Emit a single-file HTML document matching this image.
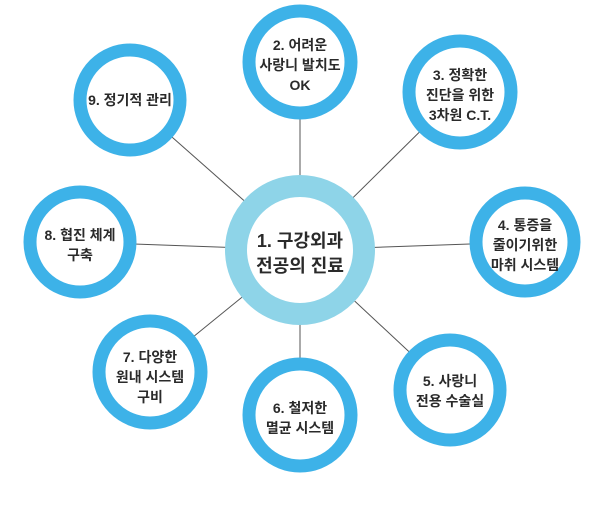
<!DOCTYPE html>
<html><head><meta charset="utf-8"><style>
body{margin:0;background:#fff;}
svg text{font-family:"Liberation Sans","Noto Sans CJK KR",sans-serif;fill:#2a2a2a;font-size:14px;text-anchor:middle;font-weight:bold}
svg text.c{font-size:18px}
</style></head><body>
<svg width="600" height="500" viewBox="0 0 600 500">
<g stroke="#555" stroke-width="1">
<line x1="300" y1="250" x2="300" y2="62"/>
<line x1="300" y1="250" x2="460" y2="92"/>
<line x1="300" y1="250" x2="130" y2="100"/>
<line x1="300" y1="250" x2="80" y2="242"/>
<line x1="300" y1="250" x2="525" y2="242"/>
<line x1="300" y1="250" x2="150" y2="372"/>
<line x1="300" y1="250" x2="300" y2="415"/>
<line x1="300" y1="250" x2="450" y2="390"/>
</g>
<g fill="#fff" stroke="#3db2e8" stroke-width="13">
<circle cx="300" cy="62" r="51"/>
<circle cx="460" cy="92" r="51"/>
<circle cx="130" cy="100" r="50"/>
<circle cx="80" cy="242" r="50"/>
<circle cx="525" cy="242" r="49"/>
<circle cx="150" cy="372" r="51"/>
<circle cx="300" cy="415" r="51"/>
<circle cx="450" cy="390" r="50"/>
</g>
<circle cx="300" cy="250" r="64" fill="#fff" stroke="#8ed4e8" stroke-width="22"/>
<text class="c" x="300" y="247">1. 구강외과</text>
<text class="c" x="300" y="272">전공의 진료</text>
<text x="300" y="50">2. 어려운</text>
<text x="300" y="70">사랑니 발치도</text>
<text x="300" y="90">OK</text>
<text x="460" y="80">3. 정확한</text>
<text x="460" y="100">진단을 위한</text>
<text x="460" y="120">3차원 C.T.</text>
<text x="130" y="105">9. 정기적 관리</text>
<text x="80" y="240">8. 협진 체계</text>
<text x="80" y="260">구축</text>
<text x="525" y="230">4. 통증을</text>
<text x="525" y="250">줄이기위한</text>
<text x="525" y="270">마취 시스템</text>
<text x="150" y="362">7. 다양한</text>
<text x="150" y="382">원내 시스템</text>
<text x="150" y="402">구비</text>
<text x="300" y="413">6. 철저한</text>
<text x="300" y="433">멸균 시스템</text>
<text x="450" y="386">5. 사랑니</text>
<text x="450" y="406">전용 수술실</text>
</svg>
</body></html>
